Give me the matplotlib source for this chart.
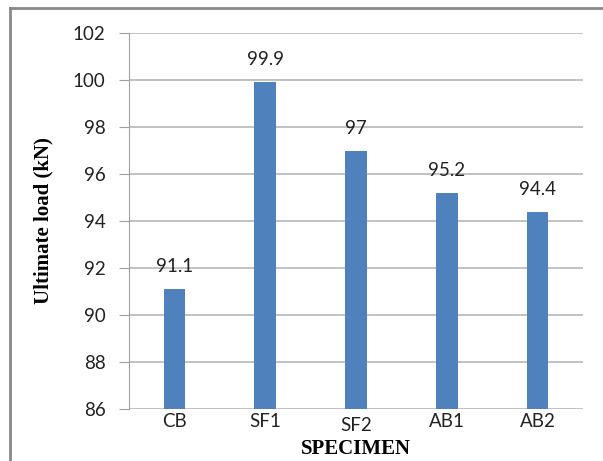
import matplotlib
matplotlib.use("Agg")
import matplotlib.pyplot as plt
from matplotlib.lines import Line2D
from matplotlib.transforms import ScaledTranslation

specimens = ["CB", "SF1", "SF2", "AB1", "AB2"]
ultimate_load = [91.1, 99.9, 97, 95.2, 94.4]
value_labels = ["91.1", "99.9", "97", "95.2", "94.4"]
yticks = [86, 88, 90, 92, 94, 96, 98, 100, 102]

W, H = 603, 461
fig = plt.figure(figsize=(W / 100, H / 100), dpi=100)
ax = fig.add_axes([129 / W, 1 - 409 / H, (583 - 129) / W, (409 - 33) / H])

tick_font = "Lato"
label_font = "Liberation Serif"
fs = 13.5

x = range(len(specimens))
ax.bar(x, [v - 86 for v in ultimate_load], bottom=86, width=0.24,
       color="#4F81BD", zorder=3)

for i, (v, t) in enumerate(zip(ultimate_load, value_labels)):
    ax.annotate(t, (i, v), xytext=(0, 10), textcoords="offset points",
                ha="center", va="bottom", fontsize=fs,
                family=tick_font, color="#222222")

ax.set_ylim(86, 102)
ax.set_xlim(-0.5, len(specimens) - 0.5)
ax.set_yticks(yticks)
ax.set_yticklabels([str(t) for t in yticks], family=tick_font, fontsize=fs)
ax.set_xticks(list(x))
ax.set_xticklabels(specimens, family=tick_font, fontsize=fs)
ax.tick_params(axis="y", length=7, color="#A0A0A0", pad=10, labelcolor="#222222")
ax.tick_params(axis="x", length=0, pad=3, labelcolor="#222222")

# SF2 label sits a little lower in the original
lbl = ax.get_xticklabels()[2]
lbl.set_transform(lbl.get_transform() + ScaledTranslation(0, -3 / 72, fig.dpi_scale_trans))

ax.grid(axis="y", color="#B8B8B8", linewidth=1.2, zorder=0)
ax.set_axisbelow(True)
for s in ["top", "right", "bottom"]:
    ax.spines[s].set_visible(False)
ax.spines["left"].set_color("#A0A0A0")

ax.set_ylabel("Ultimate load (kN)", family=label_font, fontweight="bold",
              fontsize=15, labelpad=14)
ax.set_xlabel("SPECIMEN", family=label_font, fontweight="bold",
              fontsize=15, labelpad=3)

# outer chart border: only left and top edges show
bx, by = 9.5 / W, 1 - 8.5 / H
fig.add_artist(Line2D([bx, bx], [0, by], transform=fig.transFigure,
                      color="#888888", linewidth=2))
fig.add_artist(Line2D([bx, 1], [by, by], transform=fig.transFigure,
                      color="#888888", linewidth=2))

fig.savefig("out.png", dpi=100)
